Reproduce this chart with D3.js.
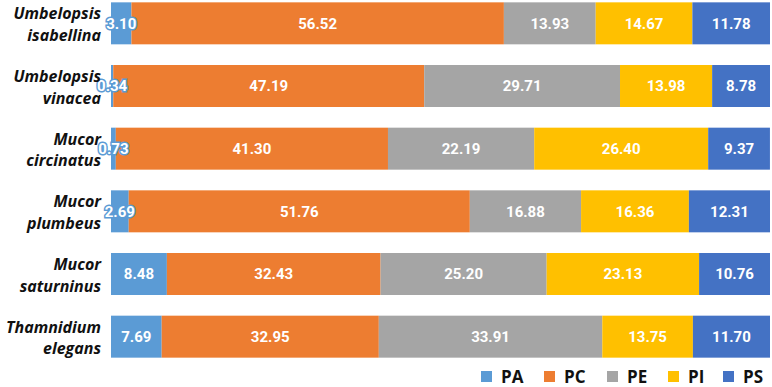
<!DOCTYPE html>
<html lang="en">
<head>
<meta charset="utf-8">
<title>Stacked bar</title>
<script src="https://cdn.jsdelivr.net/npm/d3@7"></script>
<style>
  body { margin: 0; background: #fff; }
  .lab { font-family: "Open Sans", sans-serif; font-weight: bold; font-style: italic; font-size: 16px; fill: #111; }
  .val { font-family: Roboto, sans-serif; font-weight: bold; font-size: 15px; fill: #fff; }
  .leg { font-family: "Open Sans", sans-serif; font-weight: bold; font-size: 17px; fill: #111; }
</style>
</head>
<body>
<script>
var species = [
  ["Umbelopsis", "isabellina"],
  ["Umbelopsis", "vinacea"],
  ["Mucor", "circinatus"],
  ["Mucor", "plumbeus"],
  ["Mucor", "saturninus"],
  ["Thamnidium", "elegans"]
];
var keys = ["PA", "PC", "PE", "PI", "PS"];
var PA = [3.10, 0.34, 0.73, 2.69, 8.48, 7.69];
var PC = [56.52, 47.19, 41.30, 51.76, 32.43, 32.95];
var PE = [13.93, 29.71, 22.19, 16.88, 25.20, 33.91];
var PI = [14.67, 13.98, 26.40, 16.36, 23.13, 13.75];
var PS = [11.78, 8.78, 9.37, 12.31, 10.76, 11.70];
var colors = ["#5B9BD5", "#ED7D31", "#A5A5A5", "#FFC000", "#4472C4"];

var w = 772, h = 387;
var series = [PA, PC, PE, PI, PS];
var rows = species.map(function(s, i) {
  var r = { i: i };
  keys.forEach(function(k, j) { r[k] = series[j][i]; });
  return r;
});

var svg = d3.select("body").append("svg").attr("width", w).attr("height", h);

var x = d3.scaleLinear().domain([0, 100]).range([111, 770]);
var y = d3.scaleBand().domain(d3.range(species.length)).range([-8, 368]).paddingInner(0.33).paddingOuter(0.165);
var color = d3.scaleOrdinal().domain(keys).range(colors);

var stack = d3.stack().keys(keys)(rows);

var g = svg.selectAll("g.s").data(stack).enter().append("g").attr("class", "s");
g.selectAll("rect").data(function(d) { return d; }).enter().append("rect")
  .attr("x", function(d) { return x(d[0]); })
  .attr("y", function(d) { return y(d.data.i); })
  .attr("width", function(d) { return x(d[1]) - x(d[0]); })
  .attr("height", y.bandwidth())
  .attr("fill", function(d) { return color(this.parentNode.__data__.key); });

// value labels drawn after all bars so small ones are not covered
var tg = svg.selectAll("g.t").data(stack).enter().append("g").attr("class", "t");
tg.each(function(s) {
  d3.select(this).selectAll("text").data(s).enter().append("text")
    .attr("class", "val")
    .attr("x", function(d) { return (x(d[0]) + x(d[1])) / 2; })
    .attr("y", function(d) { return y(d.data.i) + y.bandwidth() / 2; })
    .attr("dy", "0.36em")
    .attr("text-anchor", "middle")
    .attr("stroke", function(d) { return (d[1] - d[0]) < 5 ? color(s.key) : "none"; })
    .attr("stroke-width", 3)
    .attr("paint-order", "stroke")
    .text(function(d) { return (d[1] - d[0]).toFixed(2); });
});

// category labels
species.forEach(function(s, i) {
  var t = svg.append("text").attr("class", "lab").attr("text-anchor", "end")
    .attr("x", 101).attr("y", y(i) + y.bandwidth() / 2);
  t.append("tspan").attr("x", 101).attr("dy", "-0.25em").text(s[0]);
  t.append("tspan").attr("x", 101).attr("dy", "1.35em").text(s[1]);
});

// legend
var lx = [481, 544, 607, 668, 723];
var leg = svg.selectAll("g.leg").data(keys).enter().append("g")
  .attr("transform", function(d, i) { return "translate(" + lx[i] + ",371)"; });
leg.append("rect").attr("width", 11).attr("height", 11).attr("fill", function(d) { return color(d); });
leg.append("text").attr("class", "leg").attr("x", 20).attr("y", 11.5).text(function(d) { return d; });
</script>
</body>
</html>
